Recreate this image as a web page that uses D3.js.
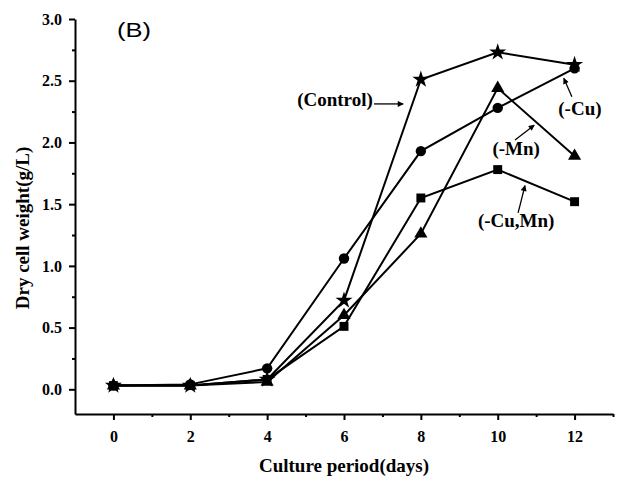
<!DOCTYPE html>
<html>
<head>
<meta charset="utf-8">
<script src="https://cdn.jsdelivr.net/npm/d3@7"></script>
<style>
  body { margin: 0; background: #fff; }
  text { font-family: "Liberation Serif", "Times New Roman", serif; font-weight: bold; }
</style>
</head>
<body>
<script>
// chart data
var days = [0, 2, 4, 6, 8, 10, 12];
var control = [0.03, 0.03, 0.08, 0.72, 2.51, 2.73, 2.63];
var minusCu = [0.03, 0.04, 0.17, 1.06, 1.93, 2.28, 2.60];
var minusMn = [0.03, 0.03, 0.06, 0.60, 1.26, 2.44, 1.89];
var minusCuMn = [0.03, 0.03, 0.08, 0.51, 1.55, 1.78, 1.52];
var xTicks = [0, 2, 4, 6, 8, 10, 12];
var yTicks = [0.0, 0.5, 1.0, 1.5, 2.0, 2.5, 3.0];
var labels = ["(Control)", "(-Cu)", "(-Mn)", "(-Cu,Mn)"];

var w = 617, h = 477;
var plotLeft = 75, plotRight = 613, plotTop = 19, plotBottom = 414;

var svg = d3.select("body").append("svg")
  .attr("width", w)
  .attr("height", h);

var x = d3.scaleLinear().domain([-1, 13]).range([plotLeft, plotRight]);
var y = d3.scaleLinear().domain([-0.2, 3.0]).range([plotBottom, plotTop]);

// arrow head
svg.append("defs").append("marker")
  .attr("id", "arrow")
  .attr("viewBox", "0 0 10 10")
  .attr("refX", 9).attr("refY", 5)
  .attr("markerWidth", 8).attr("markerHeight", 6)
  .attr("markerUnits", "userSpaceOnUse")
  .attr("orient", "auto")
  .append("path")
  .attr("d", "M0,0L10,5L0,10z")
  .attr("fill", "#000");

// axes
svg.append("g")
  .attr("transform", "translate(0," + plotBottom + ")")
  .call(d3.axisBottom(x).tickValues(xTicks).tickSize(6).tickSizeOuter(0).tickPadding(11).tickFormat(d3.format("d")));
svg.append("g")
  .attr("transform", "translate(0," + plotBottom + ")")
  .call(d3.axisBottom(x).tickValues([1, 3, 5, 7, 9, 11, 13]).tickSize(3).tickSizeOuter(0).tickFormat(""))
  .select(".domain").remove();

svg.append("g")
  .attr("transform", "translate(" + plotLeft + ",0)")
  .call(d3.axisLeft(y).tickValues(yTicks).tickSize(6).tickSizeOuter(0).tickPadding(7).tickFormat(d3.format(".1f")));
svg.append("g")
  .attr("transform", "translate(" + plotLeft + ",0)")
  .call(d3.axisLeft(y).tickValues([0.25, 0.75, 1.25, 1.75, 2.25, 2.75]).tickSize(3).tickSizeOuter(0).tickFormat(""))
  .select(".domain").remove();

svg.selectAll(".domain").attr("stroke-width", 2);
svg.selectAll(".tick line").attr("stroke-width", 2);
svg.selectAll(".tick text")
  .attr("font-size", 16)
  .attr("font-family", "Liberation Serif, serif")
  .attr("font-weight", "bold")
  .attr("fill", "#000");

// axis titles
svg.append("text")
  .attr("x", 344).attr("y", 472)
  .attr("text-anchor", "middle")
  .attr("font-size", 19)
  .text("Culture period(days)");

svg.append("text")
  .attr("transform", "translate(29,228) rotate(-90)")
  .attr("text-anchor", "middle")
  .attr("font-size", 19)
  .text("Dry cell weight(g/L)");

svg.append("text")
  .attr("x", 117).attr("y", 37)
  .attr("font-size", 21)
  .attr("textLength", 34)
  .attr("lengthAdjust", "spacingAndGlyphs")
  .style("font-family", "Liberation Sans, Arial, sans-serif")
  .style("font-weight", "normal")
  .text("(B)");

// series
var series = [
  { values: minusCuMn, symbol: d3.symbolSquare, size: 80 },
  { values: minusMn, symbol: d3.symbolTriangle, size: 75 },
  { values: minusCu, symbol: d3.symbolCircle, size: 85 },
  { values: control, symbol: d3.symbolStar, size: 90 }
];

var line = d3.line()
  .x(function(d, i) { return x(days[i]); })
  .y(function(d) { return y(d); });

series.forEach(function(s) {
  svg.append("path")
    .datum(s.values)
    .attr("d", line)
    .attr("fill", "none")
    .attr("stroke", "#000")
    .attr("stroke-width", 2);
});

series.forEach(function(s) {
  svg.selectAll(null)
    .data(s.values)
    .enter()
    .append("path")
    .attr("transform", function(d, i) { return "translate(" + x(days[i]) + "," + y(d) + ")"; })
    .attr("d", d3.symbol().type(s.symbol).size(s.size))
    .attr("fill", "#000");
});

// annotations (in data units)
var notes = [
  { text: labels[0], tx: 6.75, ty: 2.296, anchor: "end", x1: 6.78, y1: 2.312, x2: 7.54, y2: 2.312 },
  { text: labels[1], tx: 12.14, ty: 2.22, anchor: "middle", x1: 11.93, y1: 2.37, x2: 11.72, y2: 2.52 },
  { text: labels[2], tx: 10.48, ty: 1.90, anchor: "middle", x1: 10.45, y1: 2.02, x2: 10.95, y2: 2.14 },
  { text: labels[3], tx: 10.48, ty: 1.315, anchor: "middle", x1: 10.53, y1: 1.43, x2: 10.71, y2: 1.65 }
];

notes.forEach(function(n) {
  svg.append("text")
    .attr("x", x(n.tx)).attr("y", y(n.ty))
    .attr("text-anchor", n.anchor)
    .attr("font-size", 19)
    .text(n.text);
  svg.append("line")
    .attr("x1", x(n.x1)).attr("y1", y(n.y1))
    .attr("x2", x(n.x2)).attr("y2", y(n.y2))
    .attr("stroke", "#000")
    .attr("stroke-width", 1.3)
    .attr("marker-end", "url(#arrow)");
});
</script>
</body>
</html>
